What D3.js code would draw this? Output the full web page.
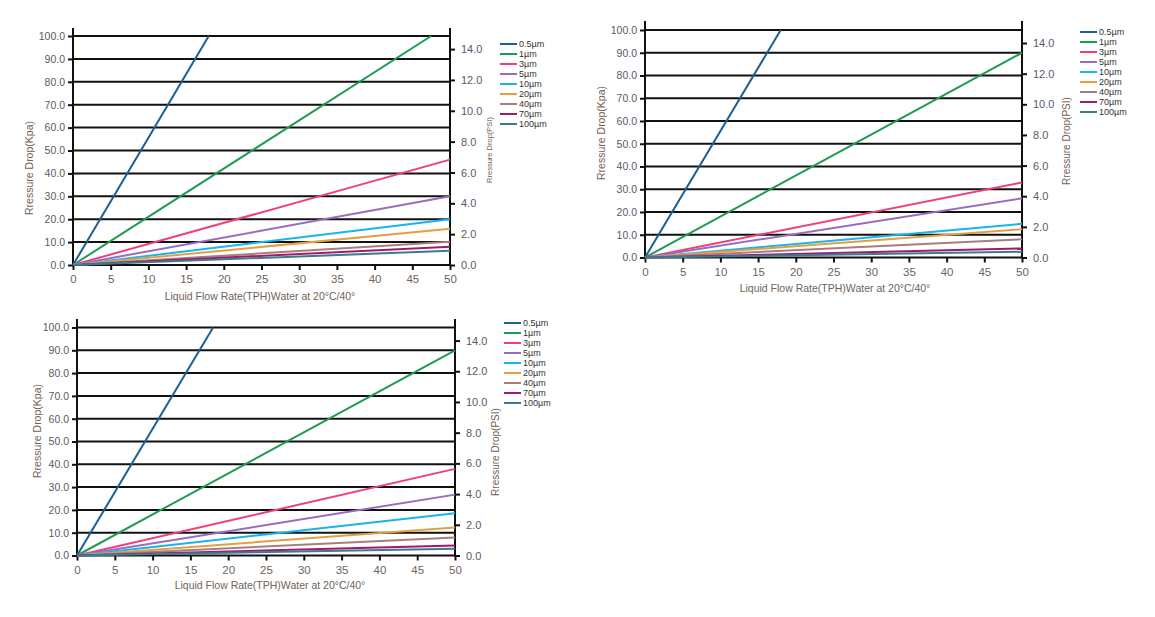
<!DOCTYPE html>
<html>
<head>
<meta charset="utf-8">
<script src="https://cdn.jsdelivr.net/npm/d3@7"></script>
<style>
  body { margin: 0; background: #fff; }
  text { font-family: "Liberation Sans Narrow", "Liberation Sans", Arial, sans-serif; }
</style>
</head>
<body>
<svg width="1155" height="617"></svg>
<script>
const sizes = ["0.5µm", "1µm", "3µm", "5µm", "10µm", "20µm", "40µm", "70µm", "100µm"];
const colors = ["#1d5e93", "#1f9a52", "#f0407c", "#9a6cc0", "#17b4ee", "#e3a043", "#a87e7c", "#a2186f", "#3c7b8e"];

const kpaTicks = [0, 10, 20, 30, 40, 50, 60, 70, 80, 90, 100];
const psiTicks = [0, 2, 4, 6, 8, 10, 12, 14];
const flowTicks = [0, 5, 10, 15, 20, 25, 30, 35, 40, 45, 50];

// each line starts at the origin and runs to (endFlow, endDrop)
const chart1EndFlow = [18, 47.5, 50, 50, 50, 50, 50, 50, 50];
const chart1EndDrop = [100, 100, 46, 30, 20, 15.8, 10.2, 8, 6.2];
const chart2EndFlow = [18, 50, 50, 50, 50, 50, 50, 50, 50];
const chart2EndDrop = [100, 90, 33, 26, 14.8, 12.4, 8, 4, 2.5];
const chart3EndFlow = [18, 50, 50, 50, 50, 50, 50, 50, 50];
const chart3EndDrop = [100, 90, 38, 26.7, 18.5, 12.3, 7.9, 4.4, 3];

const svg = d3.select("svg");

const charts = [
  { flow: chart1EndFlow, drop: chart1EndDrop,
    left: 73, right: 450, top: 36, bottom: 265, axisTop: 28,
    yTitle: [29, 168], psiTitle: [489, 150, 7.5], xTitle: [260, 296],
    legend: [500, 44] },
  { flow: chart2EndFlow, drop: chart2EndDrop,
    left: 645, right: 1022, top: 30, bottom: 257.5, axisTop: 21,
    yTitle: [601, 133], psiTitle: [1066, 141, 10], xTitle: [835, 288],
    legend: [1080, 32] },
  { flow: chart3EndFlow, drop: chart3EndDrop,
    left: 77, right: 455, top: 327.5, bottom: 555.5, axisTop: 319,
    yTitle: [37, 431], psiTitle: [495, 452, 10], xTitle: [270, 585],
    legend: [504, 323] }
];

const yLabelColor = "#575b66";
const xLabelColor = "#6f6358";

charts.forEach(c => {
  const x = d3.scaleLinear().domain([0, 50]).range([c.left, c.right]);
  const y = d3.scaleLinear().domain([0, 100]).range([c.bottom, c.top]);
  const psi = d3.scaleLinear().domain([0, 14.85]).range([c.bottom, c.top]);
  const g = svg.append("g");

  // horizontal grid lines
  g.selectAll(".grid").data(kpaTicks).join("line")
    .attr("x1", c.left).attr("x2", c.right)
    .attr("y1", d => y(d)).attr("y2", d => y(d))
    .attr("stroke", "#111").attr("stroke-width", 2);

  // left axis
  const leftAxis = g.append("g").attr("transform", `translate(${c.left},0)`)
    .call(d3.axisLeft(y).tickValues(kpaTicks).tickFormat(d3.format(".1f")).tickSize(5).tickPadding(3));
  // right axis
  const rightAxis = g.append("g").attr("transform", `translate(${c.right},0)`)
    .call(d3.axisRight(psi).tickValues(psiTicks).tickFormat(d3.format(".1f")).tickSize(5).tickPadding(6));
  // bottom axis
  const bottomAxis = g.append("g").attr("transform", `translate(0,${c.bottom})`)
    .call(d3.axisBottom(x).tickValues(flowTicks).tickSize(5).tickPadding(5));

  [leftAxis, rightAxis, bottomAxis].forEach(a => {
    a.select(".domain").remove();
    a.selectAll(".tick line").attr("stroke", "#111").attr("stroke-width", 2);
  });
  leftAxis.selectAll("text").attr("fill", yLabelColor).style("font-size", "10.5px");
  rightAxis.selectAll("text").attr("fill", yLabelColor).style("font-size", "11px");
  bottomAxis.selectAll("text").attr("fill", xLabelColor).style("font-size", "11.5px");

  // vertical axis lines
  [c.left, c.right].forEach(px => {
    g.append("line").attr("x1", px).attr("x2", px)
      .attr("y1", c.axisTop).attr("y2", c.bottom + 1)
      .attr("stroke", "#111").attr("stroke-width", 2);
  });

  // series lines
  const line = d3.line().x(d => x(d[0])).y(d => y(d[1]));
  sizes.forEach((s, i) => {
    g.append("path")
      .datum([[0, 0], [c.flow[i], c.drop[i]]])
      .attr("d", line)
      .attr("fill", "none")
      .attr("stroke", colors[i])
      .attr("stroke-width", 2);
  });

  // titles
  g.append("text")
    .attr("transform", `translate(${c.yTitle[0]},${c.yTitle[1]}) rotate(-90)`)
    .attr("text-anchor", "middle").attr("dy", "0.35em")
    .attr("fill", xLabelColor).style("font-size", "10.5px")
    .text("Rressure Drop(Kpa)");
  g.append("text")
    .attr("transform", `translate(${c.psiTitle[0]},${c.psiTitle[1]}) rotate(-90)`)
    .attr("text-anchor", "middle").attr("dy", "0.35em")
    .attr("fill", xLabelColor).style("font-size", c.psiTitle[2] + "px")
    .text("Rressure Drop(PSI)");
  g.append("text")
    .attr("x", c.xTitle[0]).attr("y", c.xTitle[1])
    .attr("text-anchor", "middle").attr("dy", "0.35em")
    .attr("fill", xLabelColor).style("font-size", "10.5px")
    .text("Liquid Flow Rate(TPH)Water at 20°C/40°");

  // legend
  const lg = g.append("g").attr("transform", `translate(${c.legend[0]},${c.legend[1]})`);
  sizes.forEach((s, i) => {
    const row = lg.append("g").attr("transform", `translate(0,${i * 10})`);
    row.append("line").attr("x1", 0).attr("x2", 17)
      .attr("stroke", colors[i]).attr("stroke-width", 2);
    row.append("text").attr("x", 19).attr("dy", "0.35em")
      .attr("fill", "#333").style("font-size", "9px").text(s);
  });
});
</script>
</body>
</html>
